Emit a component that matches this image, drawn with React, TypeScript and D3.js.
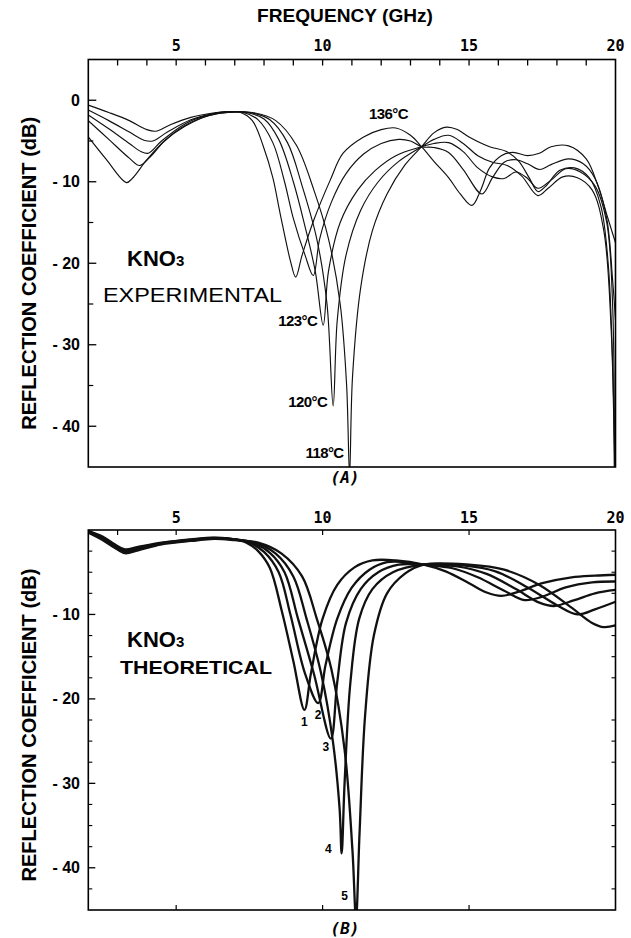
import React from 'react';
import * as d3 from 'd3';

type Pt = [number, number];

// ---------- DATA ----------
const freqTickLabels = [5, 10, 15, 20];
const topAxisMinorTicks = [3, 4, 5, 6, 7, 8, 9, 10, 11, 12, 13, 14, 15, 16, 17, 18, 19];
const dbTicksTop = [0, -10, -20, -30, -40];
const dbMinorTop = [-5, -15, -25, -35];
const dbTicksBottom = [-10, -20, -30, -40];
const dbMinorBottom = [-2.5, -5, -7.5, -12.5, -15, -17.5, -22.5, -25, -27.5, -32.5, -35, -37.5, -42.5];
const bottomFreqTicksTop = [3, 5, 10, 15];
const bottomFreqTicksBottom = [5, 10, 15];

// Experimental (panel A)
const exp136: Pt[] = [
  [2, -0.6], [2.7, -1.5], [3.4, -2.5], [4.0, -3.6], [4.3, -3.8], [4.8, -3.0], [5.5, -2.1], [6.2, -1.6], [6.8, -1.4],
  [7.2, -1.5], [7.6, -2.5], [7.98, -5.7], [8.3, -9.5], [8.55, -13.9], [8.9, -19.7], [9.08, -21.7],
  [9.3, -19], [9.7, -14.7], [10.26, -9.8], [10.7, -6.5], [11.4, -4.5], [12.0, -3.6], [12.5, -3.4], [13.0, -4.3], [13.38, -5.7],
  [13.8, -7.5], [14.3, -9.5], [14.7, -11.5], [15.1, -12.9], [15.4, -11], [15.7, -8.3], [16.1, -6.8], [16.5, -6.4],
  [17.0, -6.8], [17.4, -6.5], [17.8, -5.7], [18.4, -5.6], [19.0, -7.2], [19.4, -10.5], [19.7, -14], [20, -17.5],
];
const exp126: Pt[] = [
  [2, -1.2], [2.7, -2.5], [3.4, -3.9], [3.9, -4.9], [4.2, -5.0], [4.7, -3.9], [5.5, -2.4], [6.2, -1.7], [6.8, -1.4],
  [7.3, -1.5], [7.8, -2.4], [8.3, -5.2], [8.7, -10], [9.0, -14.5], [9.4, -19], [9.68, -21.5],
  [9.9, -17], [10.3, -12.5], [10.8, -9], [11.4, -6.6], [12.0, -5.3], [12.6, -4.8], [13.0, -5.0], [13.38, -5.7],
  [13.8, -5.8], [14.3, -6.4], [14.8, -8.5], [15.44, -11.5], [15.8, -9.5], [16.2, -7.6], [16.6, -7.3], [17.0, -7.8],
  [17.4, -8.5], [17.8, -7.9], [18.4, -7.2], [18.9, -7.8], [19.3, -9.6], [19.7, -14.5], [19.9, -22], [20, -27],
];
const exp123: Pt[] = [
  [2, -1.8], [2.7, -3.5], [3.4, -5.3], [3.8, -6.3], [4.05, -6.5], [4.5, -5.0], [5.3, -2.9], [6.1, -1.8], [6.8, -1.4],
  [7.4, -1.5], [8.0, -2.3], [8.5, -4.8], [9.0, -10], [9.4, -15.5], [9.75, -21], [10.02, -27.6],
  [10.2, -21], [10.6, -15], [11.2, -11], [11.8, -8.6], [12.5, -6.8], [13.38, -5.7],
  [13.8, -5.3], [14.3, -5.2], [14.8, -6.3], [15.3, -8.3], [15.8, -9.4], [16.2, -9.6], [16.6, -8.8], [17.0, -9.6],
  [17.35, -10.8], [17.8, -9.8], [18.3, -8.4], [18.8, -8.8], [19.3, -10.5], [19.7, -15], [19.9, -25], [19.96, -46],
];
const exp120: Pt[] = [
  [2, -2.5], [2.7, -4.8], [3.4, -7.1], [3.75, -8.0], [4.1, -7.0], [4.6, -5.0], [5.3, -3.1], [6.1, -1.9], [6.8, -1.45],
  [7.5, -1.5], [8.2, -2.4], [8.8, -5.2], [9.3, -10.5], [9.8, -17], [10.15, -25], [10.36, -37.5],
  [10.5, -27], [10.8, -19], [11.3, -13.5], [11.9, -10], [12.6, -7.5], [13.38, -5.7],
  [13.8, -4.8], [14.3, -4.3], [14.8, -5.3], [15.3, -6.8], [15.8, -7.6], [16.3, -8.0], [16.8, -9.3], [17.35, -11.7],
  [17.7, -10.8], [18.2, -9.4], [18.7, -9.5], [19.2, -11], [19.6, -16], [19.85, -28], [19.97, -46],
];
const exp118: Pt[] = [
  [2, -4.5], [2.6, -7.2], [3.3, -10.1], [3.5, -9.6], [4.0, -7.3], [4.6, -5.0], [5.3, -3.2], [6.1, -1.9], [6.8, -1.5],
  [7.6, -1.5], [8.4, -2.5], [9.1, -5.5], [9.7, -11], [10.2, -17], [10.6, -25], [10.82, -35], [10.92, -46],
  [11.02, -34], [11.3, -23], [11.7, -16], [12.2, -11.5], [12.8, -8], [13.38, -5.7],
  [13.8, -4.0], [14.23, -3.3], [14.6, -3.6], [15.0, -4.5], [15.7, -5.7], [16.28, -6.3], [16.7, -7.5], [17.05, -9.5],
  [17.35, -11.2], [17.6, -10.6], [18.1, -8.6], [18.6, -8.3], [19.1, -9.5], [19.5, -13], [19.75, -20], [19.9, -32], [19.98, -46],
];

// Theoretical (panel B)
const theo1: Pt[] = [
  [2, -0.1], [2.5, -0.8], [2.9, -1.7], [3.25, -2.3], [3.7, -2.0], [4.5, -1.5], [5.5, -1.1], [6.3, -0.9], [7.0, -1.1],
  [7.4, -1.5], [7.8, -2.5], [8.2, -4.5], [8.6, -9.5], [9.0, -15.5], [9.38, -21.3], [9.6, -17], [10.0, -10.5],
  [10.5, -6.5], [11.1, -4.4], [11.7, -3.6], [12.5, -3.6], [13.45, -4.1], [14.2, -4.9], [15.0, -6.3], [15.6, -7.4],
  [16.1, -7.8], [16.7, -7.3], [17.5, -6.3], [18.5, -5.6], [19.3, -5.4], [20, -5.3],
];
const theo2: Pt[] = [
  [2, -0.15], [2.5, -0.9], [2.9, -1.8], [3.25, -2.45], [3.7, -2.1], [4.5, -1.55], [5.5, -1.15], [6.3, -0.95], [7.0, -1.1],
  [7.5, -1.5], [8.0, -2.6], [8.5, -5], [8.9, -10], [9.4, -17], [9.85, -20.5], [10.1, -16], [10.5, -10.5],
  [11.0, -6.8], [11.6, -4.7], [12.2, -3.8], [12.8, -3.8], [13.45, -4.1], [14.4, -4.5], [15.3, -5.6], [16.2, -7.2],
  [16.9, -8.3], [17.5, -7.9], [18.3, -6.8], [19.2, -6.2], [20, -6.1],
];
const theo3: Pt[] = [
  [2, -0.2], [2.5, -1.0], [2.9, -1.9], [3.25, -2.55], [3.7, -2.2], [4.5, -1.6], [5.5, -1.2], [6.3, -1.0], [7.0, -1.1],
  [7.6, -1.5], [8.2, -2.7], [8.7, -5], [9.16, -10.5], [9.7, -17], [10.28, -24.7], [10.5, -18], [10.8, -11],
  [11.3, -7], [11.9, -5], [12.6, -4.1], [13.45, -4.1], [14.6, -4.3], [15.6, -5.2], [16.6, -7], [17.4, -8.6],
  [17.9, -9.0], [18.6, -8.3], [19.3, -7.5], [20, -7.1],
];
const theo4: Pt[] = [
  [2, -0.25], [2.5, -1.1], [2.9, -2.0], [3.25, -2.65], [3.7, -2.3], [4.5, -1.65], [5.5, -1.25], [6.3, -1.0], [7.0, -1.15],
  [7.7, -1.5], [8.4, -2.8], [9.0, -5.5], [9.45, -10.5], [9.95, -17], [10.35, -25], [10.58, -33], [10.65, -38.3],
  [10.75, -30], [10.95, -18], [11.25, -10.5], [11.7, -7], [12.4, -5], [13.45, -4.1], [14.8, -4.2], [15.9, -4.9],
  [17.0, -6.8], [18.0, -8.9], [18.7, -10], [19.3, -9.4], [20, -8.5],
];
const theo5: Pt[] = [
  [2, -0.3], [2.5, -1.2], [2.9, -2.1], [3.25, -2.75], [3.7, -2.4], [4.5, -1.7], [5.5, -1.3], [6.3, -1.05], [7.0, -1.2],
  [7.8, -1.5], [8.6, -2.8], [9.3, -5.5], [9.8, -10.5], [10.3, -16.5], [10.75, -26], [11.02, -38], [11.14, -46],
  [11.26, -36], [11.45, -22], [11.75, -12.5], [12.2, -7.5], [12.8, -5.2], [13.45, -4.1], [15.0, -4.1], [16.2, -4.7],
  [17.4, -6.5], [18.5, -9.2], [19.2, -11.0], [19.6, -11.5], [20, -11.3],
];

const expSeries = [exp136, exp126, exp123, exp120, exp118];
const theoSeries = [theo1, theo2, theo3, theo4, theo5];
const expLabelTexts = ['123', '120', '118'];
const expLabelDips: Pt[] = [[10.02, -27.6], [10.36, -37.5], [10.92, -43.8]];
const label136: Pt = [12.25, -2.3];
const theoLabelTexts = ['1', '2', '3', '4', '5'];
const theoLabelDips: Pt[] = [[9.38, -21.3], [9.85, -20.5], [10.28, -24.7], [10.65, -38.3], [11.14, -43.4]];

// ---------- LAYOUT ----------
const W = 631;
const H = 938;
const X0 = 88.3;
const X1 = 615.5;
const topY0 = 59.5;
const topY1 = 467;
const botY0 = 530;
const botY1 = 910;

const x = d3.scaleLinear().domain([2, 20]).range([X0, X1]);
const yTop = d3.scaleLinear().domain([-45, 5]).range([topY1, topY0]);
const yBot = d3.scaleLinear().domain([-45, 0]).range([botY1, botY0]);

const SANS = '"Liberation Sans", Arial, Helvetica, sans-serif';
const MONO = '"DejaVu Sans Mono", "Liberation Mono", monospace';

function fmtDb(v: number) {
  return v === 0 ? '0' : `- ${Math.abs(v)}`;
}

export default function App() {
  const lineTop = d3.line<Pt>().x((d) => x(d[0])).y((d) => yTop(d[1])).curve(d3.curveCatmullRom.alpha(0.5));
  const lineBot = d3.line<Pt>().x((d) => x(d[0])).y((d) => yBot(d[1])).curve(d3.curveCatmullRom.alpha(0.5));

  return (
    <svg width={W} height={H} viewBox={`0 0 ${W} ${H}`} style={{ position: 'absolute', left: 0, top: 0, background: '#fff' }}>
      <defs>
        <clipPath id="clipTop"><rect x={X0} y={topY0} width={X1 - X0} height={topY1 - topY0} /></clipPath>
        <clipPath id="clipBot"><rect x={X0} y={botY0} width={X1 - X0} height={botY1 - botY0} /></clipPath>
      </defs>
      <rect x={0} y={0} width={W} height={H} fill="#fff" />

      {/* ===== PANEL A ===== */}
      <text x={345} y={22} textAnchor="middle" fontFamily={SANS} fontWeight="bold" fontSize={19} textLength={176} lengthAdjust="spacingAndGlyphs">FREQUENCY (GHz)</text>
      {freqTickLabels.map((f) => (
        <text key={'tl' + f} x={x(f)} y={51} textAnchor="middle" fontFamily={MONO} fontWeight="bold" fontSize={15}>{f}</text>
      ))}
      {topAxisMinorTicks.map((f) => (
        <line key={'tt' + f} x1={x(f)} x2={x(f)} y1={topY0} y2={topY0 + 6} stroke="#000" strokeWidth={1.3} />
      ))}
      {dbTicksTop.map((v) => (
        <g key={'ytA' + v}>
          <line x1={X0} x2={X0 + 8} y1={yTop(v)} y2={yTop(v)} stroke="#000" strokeWidth={1.3} />
          <text x={80} y={yTop(v) + 5.5} textAnchor="end" fontFamily={SANS} fontWeight="bold" fontSize={16}>{fmtDb(v)}</text>
        </g>
      ))}
      {dbMinorTop.map((v) => (
        <line key={'ymA' + v} x1={X0} x2={X0 + 5} y1={yTop(v)} y2={yTop(v)} stroke="#000" strokeWidth={1.2} />
      ))}
      <text transform={`translate(36, ${(topY0 + topY1) / 2 + 10}) rotate(-90)`} textAnchor="middle" fontFamily={SANS} fontWeight="bold" fontSize={21} textLength={313} lengthAdjust="spacingAndGlyphs">REFLECTION COEFFICIENT (dB)</text>

      <g clipPath="url(#clipTop)">
        {expSeries.map((s, i) => (
          <path key={'e' + i} d={lineTop(s) || ''} fill="none" stroke="#111" strokeWidth={1.15} />
        ))}
      </g>
      <rect x={X0} y={topY0} width={X1 - X0} height={topY1 - topY0} fill="none" stroke="#000" strokeWidth={1.6} />

      <text x={x(label136[0])} y={yTop(label136[1])} textAnchor="middle" fontFamily={SANS} fontWeight="bold" fontSize={15} letterSpacing={-0.6}>136°C</text>
      {expLabelTexts.map((t, i) => (
        <text key={'el' + t} x={x(expLabelDips[i][0]) - 6} y={yTop(expLabelDips[i][1]) + 1} textAnchor="end" fontFamily={SANS} fontWeight="bold" fontSize={15} letterSpacing={-0.6}>{t}°C</text>
      ))}
      <text x={127} y={266} fontFamily={SANS} fontWeight="bold" fontSize={22}>KNO<tspan fontSize={15}>3</tspan></text>
      <text x={103} y={302} fontFamily={SANS} fontSize={20} textLength={179} lengthAdjust="spacingAndGlyphs">EXPERIMENTAL</text>
      <text x={345} y={483} textAnchor="middle" fontFamily={MONO} fontWeight="bold" fontStyle="italic" fontSize={16}>(A)</text>

      {/* ===== PANEL B ===== */}
      {freqTickLabels.map((f) => (
        <text key={'tlb' + f} x={x(f)} y={523} textAnchor="middle" fontFamily={MONO} fontWeight="bold" fontSize={15}>{f}</text>
      ))}
      {bottomFreqTicksTop.map((f) => (
        <line key={'btt' + f} x1={x(f)} x2={x(f)} y1={botY0} y2={botY0 + 5} stroke="#000" strokeWidth={1.2} />
      ))}
      {bottomFreqTicksBottom.map((f) => (
        <line key={'btb' + f} x1={x(f)} x2={x(f)} y1={botY1} y2={botY1 - 5} stroke="#000" strokeWidth={1.2} />
      ))}
      {dbTicksBottom.map((v) => (
        <g key={'ytB' + v}>
          <line x1={X0} x2={X0 + 7} y1={yBot(v)} y2={yBot(v)} stroke="#000" strokeWidth={1.3} />
          <text x={80} y={yBot(v) + 5.5} textAnchor="end" fontFamily={SANS} fontWeight="bold" fontSize={16}>{fmtDb(v)}</text>
        </g>
      ))}
      {dbMinorBottom.map((v) => (
        <g key={'ymB' + v}>
          <line x1={X0} x2={X0 + 4} y1={yBot(v)} y2={yBot(v)} stroke="#000" strokeWidth={1.1} />
          <line x1={X1} x2={X1 - 4} y1={yBot(v)} y2={yBot(v)} stroke="#000" strokeWidth={1.1} />
        </g>
      ))}
      <text transform={`translate(36, ${(botY0 + botY1) / 2 + 5}) rotate(-90)`} textAnchor="middle" fontFamily={SANS} fontWeight="bold" fontSize={21} textLength={313} lengthAdjust="spacingAndGlyphs">REFLECTION COEFFICIENT (dB)</text>

      <g clipPath="url(#clipBot)">
        {theoSeries.map((s, i) => (
          <path key={'t' + i} d={lineBot(s) || ''} fill="none" stroke="#111" strokeWidth={2.3} />
        ))}
      </g>
      <rect x={X0} y={botY0} width={X1 - X0} height={botY1 - botY0} fill="none" stroke="#000" strokeWidth={1.6} />

      {theoLabelTexts.map((t, i) => {
        const [f, v] = theoLabelDips[i];
        const dx = [0, 0, -5, -10, -8][i];
        const dy = [16, 16, 12, 0, 4][i];
        return (
          <text key={'tl' + t} x={x(f) + dx} y={yBot(v) + dy} textAnchor={i >= 3 ? 'end' : 'middle'} fontFamily={SANS} fontWeight="bold" fontSize={12}>{t}</text>
        );
      })}
      <text x={127} y={647} fontFamily={SANS} fontWeight="bold" fontSize={22}>KNO<tspan fontSize={15}>3</tspan></text>
      <text x={120} y={674} fontFamily={SANS} fontWeight="bold" fontSize={18} textLength={152} lengthAdjust="spacingAndGlyphs">THEORETICAL</text>
      <text x={345} y={934} textAnchor="middle" fontFamily={MONO} fontWeight="bold" fontStyle="italic" fontSize={16}>(B)</text>
    </svg>
  );
}
